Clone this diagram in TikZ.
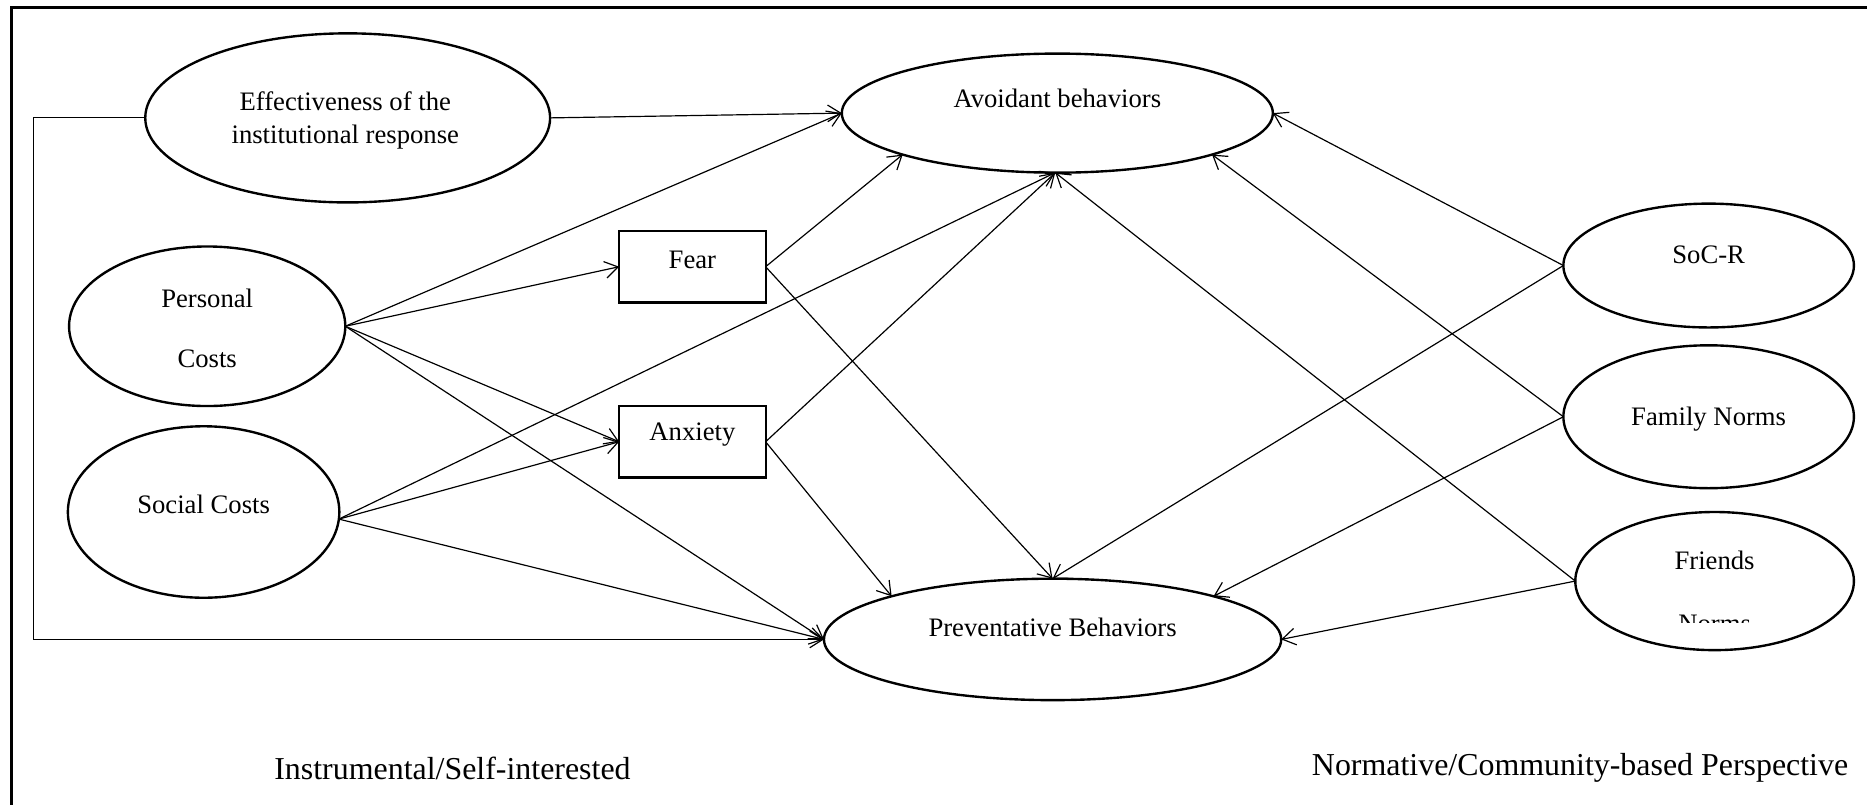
\documentclass[tikz,border=0pt]{standalone}
\usepackage{fontspec}
\setmainfont{Liberation Serif}
\usetikzlibrary{shapes.geometric,arrows.meta}
\begin{document}
\begin{tikzpicture}[x=0.5pt,y=-0.5pt,
 ell/.style={ellipse,draw,line width=1pt,inner sep=0pt,outer sep=0pt},
 rbox/.style={rectangle,draw,line width=0.9pt,inner sep=0pt,outer sep=0pt,minimum width=61.5pt,minimum height=30pt},
 lbl/.style={font=\fontsize{11.2}{13.5}\selectfont,inner sep=0pt,align=center},
 big/.style={font=\fontsize{13.4}{16}\selectfont,inner sep=0pt},
 arr/.style={-{Straight Barb[length=5.5pt,width=7pt]},line width=0.5pt},
 frame/.style={line width=1.2pt}]
\useasboundingbox (0,0) rectangle (1568,676);
\fill[white] (0,0) rectangle (1568,676);
% frame (only left and top visible)
\coordinate (fbl) at (10,690);
\coordinate (ftl) at (10,6);
\coordinate (ftr) at (1590,6);
\draw[frame] (fbl) -- (ftl) -- (ftr);
% nodes
\node[ell,minimum width=170pt,minimum height=71pt] (eff) at (292,99) {};
\node[lbl,font=\fontsize{11.2}{14}\selectfont] (efft) at (290,101) {Effectiveness of the\\institutional response};
\node[ell,minimum width=181pt,minimum height=50pt] (av) at (888,95) {};
\node[lbl] (avt) at (888,83) {Avoidant behaviors};
\node[ell,minimum width=116pt,minimum height=67pt] (pc) at (174,274) {};
\node[lbl] (pct1) at (174,251) {Personal};
\node[lbl] (pct2) at (174,301) {Costs};
\node[ell,minimum width=114pt,minimum height=72pt] (sc) at (171,430) {};
\node[lbl] (sct) at (171,424) {Social Costs};
\node[rbox] (fear) at (581.5,224) {};
\node[lbl] (feart) at (581.5,218) {Fear};
\node[rbox] (anx) at (581.5,371) {};
\node[lbl] (anxt) at (581.5,365) {Anxiety};
\node[ell,minimum width=192pt,minimum height=51pt] (prev) at (884,537) {};
\node[lbl] (prevt) at (884,527) {Preventative Behaviors};
\node[ell,minimum width=122pt,minimum height=52pt] (soc) at (1435,223) {};
\node[lbl] (soct) at (1435,214) {SoC-R};
\node[ell,minimum width=122pt,minimum height=60pt] (fam) at (1435,350) {};
\node[lbl] (famt) at (1435,352) {Family Norms};
\node[ell,minimum width=117pt,minimum height=58pt] (fri) at (1440,488) {};
\node[lbl,anchor=base] (frit) at (1440,478.5) {Friends};
\begin{scope}
\clip (1330,490) rectangle (1550,523);
\node[lbl,anchor=base] (frit2) at (1440,531) {Norms};
\end{scope}
% connectors
\draw[arr] (eff.east) -- (av.west);
\draw[arr] (pc.east) -- (av.west);
\draw[arr] (pc.east) -- (fear.west);
\draw[arr] (pc.east) -- (anx.west);
\draw[arr] (pc.east) -- (prev.west);
\draw[arr] (sc.-3) -- (av.268);
\draw[arr] (sc.-3) -- (anx.west);
\draw[arr] (sc.-3) -- (prev.west);
\draw[arr] (fear.east) -- (av.195);
\draw[arr] (fear.east) -- (prev.north);
\draw[arr] (anx.east) -- (av.268);
\draw[arr] (anx.east) -- (prev.165);
\draw[arr] (soc.west) -- (av.east);
\draw[arr] (soc.west) -- (prev.north);
\draw[arr] (fam.west) -- (av.345);
\draw[arr] (fam.west) -- (prev.15);
\draw[arr] (fri.west) -- (av.268);
\draw[arr] (fri.west) -- (prev.east);
\coordinate (fb) at (28,99);
\draw[arr] (eff.west) -- (fb) |- (prev.west);
% perspective labels
\node[big] (inst) at (380,645) {Instrumental/Self-interested};
\node[big] (norm) at (1327,645) {Normative/Community-based Perspective};
\end{tikzpicture}
\end{document}
